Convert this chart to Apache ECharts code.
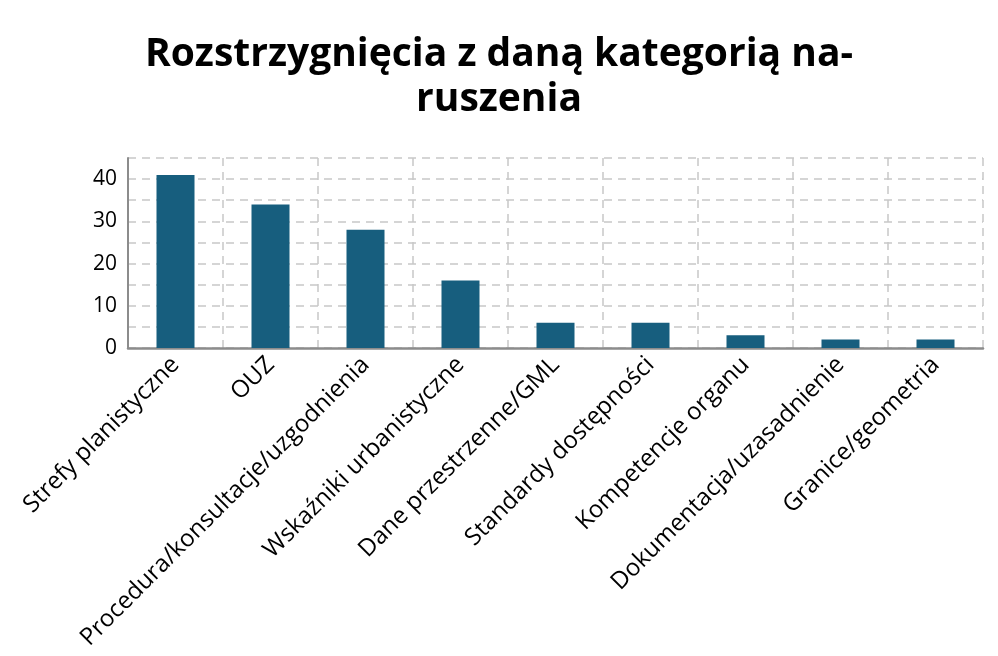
<!DOCTYPE html>
<html lang="pl" style="height: 100%;margin: 0;background-color: #ffffff;">
<head>
    <meta charset="UTF-8">
    <title>chart</title>
</head>
<body style="height: 100%;margin: 0;background-color: #ffffff;">
<div id="chart" style="width: 998px;height: 656px;margin: 0;"></div>
<script src="https://cdn.jsdelivr.net/npm/echarts@6/dist/echarts.min.js"></script>
<script>
    var categories = ["Strefy planistyczne", "OUZ", "Procedura/konsultacje/uzgodnienia", "Wskaźniki urbanistyczne",
        "Dane przestrzenne/GML", "Standardy dostępności", "Kompetencje organu", "Dokumentacja/uzasadnienie", "Granice/geometria"];
    var counts = [41, 34, 28, 16, 6, 6, 3, 2, 2];
    var chartTitle = "Rozstrzygnięcia z daną kategorią na-\nruszenia";

    var myChart = echarts.init(document.getElementById("chart"), null, {renderer: 'canvas'});

    var option = {
        backgroundColor: '#ffffff',
        animation: false,
        title: {
            text: chartTitle,
            left: 'center',
            top: 27,
            textStyle: {
                fontFamily: 'Open Sans',
                fontWeight: 'bold',
                fontSize: 39,
                lineHeight: 45,
                color: '#000000'
            }
        },
        grid: {
            left: 128,
            right: 15,
            top: 158,
            bottom: 308
        },
        xAxis: {
            type: 'category',
            data: categories,
            axisLine: {lineStyle: {color: '#8c8c8c', width: 2.5}},
            axisTick: {show: false},
            splitLine: {show: true, lineStyle: {color: '#c8c8c8', type: [8, 6], width: 1.5}},
            axisLabel: {
                rotate: 45,
                interval: 0,
                margin: 13,
                fontFamily: 'Open Sans',
                fontSize: 24,
                color: '#000000'
            }
        },
        yAxis: {
            type: 'value',
            min: 0,
            max: 45,
            interval: 5,
            axisLine: {show: true, lineStyle: {color: '#8c8c8c', width: 2}},
            axisTick: {show: false},
            splitLine: {show: true, lineStyle: {color: '#c8c8c8', type: [8, 6], width: 1.5}},
            axisLabel: {
                margin: 11,
                fontFamily: 'Open Sans',
                fontSize: 21,
                color: '#000000',
                formatter: function (v) {
                    return v % 10 === 0 && v <= 40 ? String(v) : '';
                }
            }
        },
        series: [{
            type: 'bar',
            data: counts,
            barWidth: '40%',
            itemStyle: {color: '#175e7e'}
        }]
    };
    myChart.setOption(option, true);
</script>
</body>
</html>
